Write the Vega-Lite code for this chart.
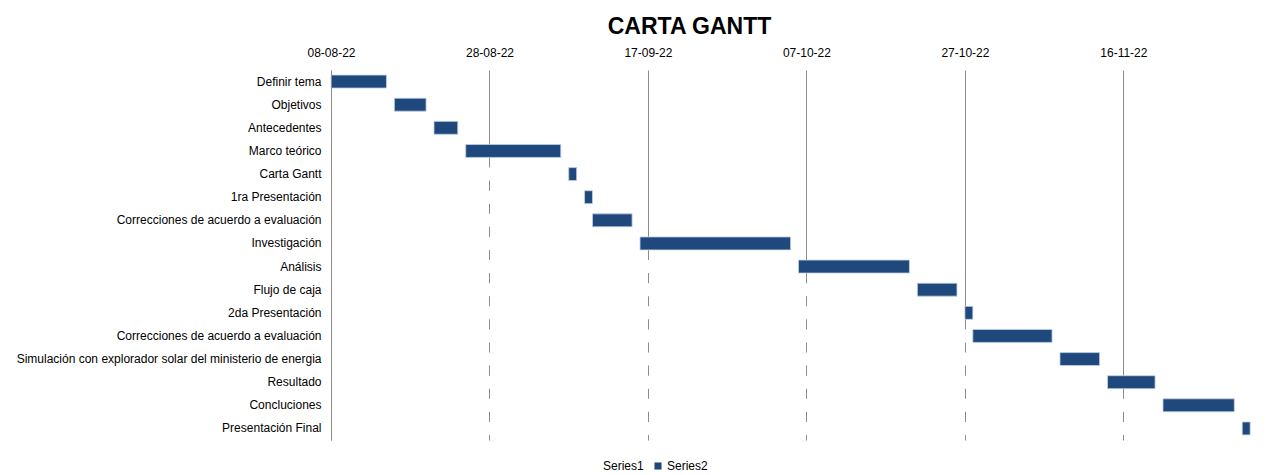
{
  "$schema": "https://vega.github.io/schema/vega-lite/v6.json",
  "width": 935,
  "height": 370,
  "autosize": {"type": "none"},
  "padding": {"left": 331, "top": 70, "right": 21, "bottom": 35},
  "background": "white",
  "title": {"text": "CARTA GANTT", "font": "Liberation Sans", "fontSize": 23, "fontWeight": "bold", "color": "#000000", "anchor": "middle", "dx": -109, "offset": 7},
  "config": {"view": {"stroke": null}, "font": "Liberation Sans"},
  "data": {"values": [
    {"tarea": "Definir tema", "inicio": "2022-08-08", "fin": "2022-08-15"},
    {"tarea": "Objetivos", "inicio": "2022-08-16", "fin": "2022-08-20"},
    {"tarea": "Antecedentes", "inicio": "2022-08-21", "fin": "2022-08-24"},
    {"tarea": "Marco teórico", "inicio": "2022-08-25", "fin": "2022-09-06"},
    {"tarea": "Carta Gantt", "inicio": "2022-09-07", "fin": "2022-09-08"},
    {"tarea": "1ra Presentación", "inicio": "2022-09-09", "fin": "2022-09-10"},
    {"tarea": "Correcciones de acuerdo a evaluación", "inicio": "2022-09-10", "fin": "2022-09-15"},
    {"tarea": "Investigación", "inicio": "2022-09-16", "fin": "2022-10-05"},
    {"tarea": "Análisis", "inicio": "2022-10-06", "fin": "2022-10-20"},
    {"tarea": "Flujo de caja", "inicio": "2022-10-21", "fin": "2022-10-26"},
    {"tarea": "2da Presentación", "inicio": "2022-10-27", "fin": "2022-10-28"},
    {"tarea": "Correcciones de acuerdo a evaluación\u200b", "inicio": "2022-10-28", "fin": "2022-11-07"},
    {"tarea": "Simulación con explorador solar del ministerio de energia", "inicio": "2022-11-08", "fin": "2022-11-13"},
    {"tarea": "Resultado", "inicio": "2022-11-14", "fin": "2022-11-20"},
    {"tarea": "Concluciones", "inicio": "2022-11-21", "fin": "2022-11-30"},
    {"tarea": "Presentación Final", "inicio": "2022-12-01", "fin": "2022-12-02"}
  ]},
  "encoding": {
    "y": {
      "field": "tarea", "type": "nominal", "sort": null,
      "scale": {"paddingInner": 0.44, "paddingOuter": 0.22},
      "axis": {"title": null, "ticks": false, "domain": true, "domainColor": "#8c8c8c", "domainWidth": 1, "grid": false, "labelFont": "Liberation Sans", "labelFontSize": 12, "labelColor": "#000000", "labelPadding": 10, "labelLimit": 400, "zindex": 1}
    }
  },
  "layer": [
    {
      "mark": {"type": "bar"},
      "encoding": {
        "x": {
          "field": "inicio", "type": "temporal",
          "scale": {"type": "utc", "domain": [{"year": 2022, "month": 8, "date": 8, "utc": true}, {"year": 2022, "month": 12, "date": 4, "utc": true}]},
          "axis": {"orient": "top", "title": null, "labelExpr": "utcFormat(datum.value, '%d-%m-%y')", "labelFlush": false, "labelOverlap": false,
            "values": [
              {"year": 2022, "month": 8, "date": 8, "utc": true},
              {"year": 2022, "month": 8, "date": 28, "utc": true},
              {"year": 2022, "month": 9, "date": 17, "utc": true},
              {"year": 2022, "month": 10, "date": 7, "utc": true},
              {"year": 2022, "month": 10, "date": 27, "utc": true},
              {"year": 2022, "month": 11, "date": 16, "utc": true}
            ],
            "ticks": false, "domain": false, "grid": true, "gridColor": "#8c8c8c", "gridWidth": 1,
            "labelFont": "Liberation Sans", "labelFontSize": 12, "labelColor": "#000000", "labelPadding": 11, "zindex": 0}
        },
        "x2": {"datum": {"year": 2022, "month": 8, "date": 8, "utc": true}},
        "color": {"datum": "Series1", "type": "nominal",
          "scale": {"domain": ["Series1", "Series2"], "range": ["#ffffff", "#1F497D"]},
          "legend": {"orient": "none", "legendX": 257, "legendY": 390, "direction": "horizontal", "title": null, "symbolType": "square", "symbolSize": 50, "symbolStrokeWidth": 0, "labelFont": "Liberation Sans", "labelFontSize": 12, "labelColor": "#000000", "columnPadding": 8, "labelOffset": 3}
        }
      }
    },
    {
      "mark": {"type": "bar", "stroke": "#c3d1e6", "strokeWidth": 0.8},
      "encoding": {
        "x": {"field": "inicio", "type": "temporal"},
        "x2": {"field": "fin"},
        "color": {"datum": "Series2", "type": "nominal"}
      }
    }
  ]
}
